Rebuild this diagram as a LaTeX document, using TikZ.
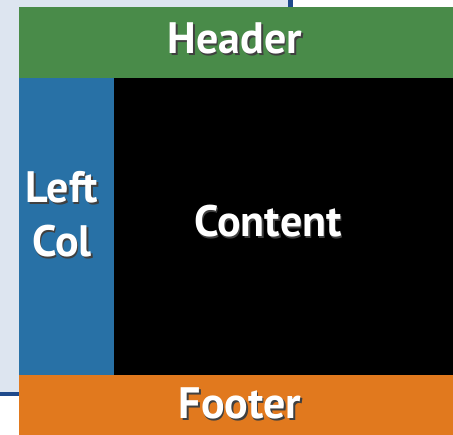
\documentclass[tikz,border=0pt]{standalone}
\usepackage{fontspec}
\setmainfont{PT Sans}
\definecolor{pagebg}{RGB}{221,229,240}
\definecolor{pageedge}{RGB}{31,74,140}
\definecolor{headergreen}{RGB}{73,139,73}
\definecolor{leftblue}{RGB}{40,113,166}
\definecolor{footerorange}{RGB}{225,121,30}
\newcommand\shadowed[1]{\rlap{\hspace{1.5pt}\raisebox{-1.5pt}{\color{black!75}#1}}#1}
\tikzset{
  region/.style = {draw = none},
  caption/.style = {text = white, font = \bfseries\fontsize{44}{51}\selectfont, inner sep = 0pt, align = center}
}
\begin{document}
\begin{tikzpicture}[x = 1pt, y = -1pt]
  \useasboundingbox (0, 0) rectangle (453, 435);
  \fill[white] (0, 0) rectangle (453, 435);
  % page behind the layout
  \fill[pagebg] (0, 0) rectangle (290.5, 394);
  \draw[pageedge, line width = 4.5pt] (290.5, 0)--(290.5, 394)--(0, 394);
  \def\leftedge{19}
  \def\coledge{114}
  \def\headerbottom{78}
  \def\footertop{375}
  \fill[region, headergreen] (\leftedge, 7) rectangle (453, \headerbottom);
  \fill[region, leftblue] (\leftedge, \headerbottom) rectangle (\coledge, \footertop);
  \fill[region, black] (\coledge, \headerbottom) rectangle (453, \footertop);
  \fill[region, footerorange] (\leftedge, \footertop) rectangle (453, 435);
  \node[caption, anchor = base] (header) at (235, 54) {\shadowed{Header}};
  \node[caption, font = \bfseries\fontsize{44}{54}\selectfont] (leftcol) at (62, 215) {\shadowed{Left}\\\shadowed{Col}};
  \node[caption, anchor = base] (content) at (268, 237) {\shadowed{Content}};
  \node[caption, anchor = base] (footer) at (240, 419) {\shadowed{Footer}};
\end{tikzpicture}
\end{document}
